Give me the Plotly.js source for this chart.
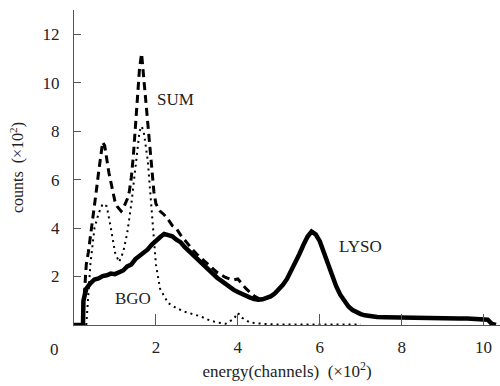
<!DOCTYPE html>
<html><head><meta charset="utf-8">
<script src="https://cdn.plot.ly/plotly-3.0.1.min.js"></script>
<style>html,body{margin:0;padding:0;background:#fff}#chart{width:500px;height:386px}</style>
</head><body><div id="chart"></div>
<script>
// LYSO spectrum (solid)
const lysoX = [0.0,0.22,0.23,0.3,0.4,0.5,0.6,0.7,0.8,0.9,1.0,1.1,1.2,1.3,1.4,1.5,1.6,1.7,1.8,1.9,2.0,2.1,2.2,2.3,2.4,2.5,2.6,2.7,2.8,2.9,3.0,3.1,3.2,3.3,3.4,3.5,3.6,3.7,3.8,3.9,4.0,4.1,4.2,4.3,4.4,4.5,4.6,4.7,4.8,4.9,5.0,5.1,5.2,5.3,5.4,5.5,5.6,5.7,5.8,5.9,6.0,6.1,6.2,6.3,6.4,6.5,6.6,6.7,6.8,6.9,7.0,7.1,7.2,7.3,7.4,7.6,7.8,8.0,8.2,8.4,8.6,8.8,9.0,9.2,9.4,9.6,9.8,10.0,10.1,10.2,10.3];
const lysoY = [0,0,1.0,1.5,1.72,1.88,1.92,2.02,2.05,2.12,2.1,2.18,2.25,2.42,2.5,2.72,2.85,3.02,3.12,3.32,3.5,3.62,3.76,3.72,3.66,3.52,3.42,3.22,3.06,2.88,2.76,2.55,2.42,2.24,2.12,1.94,1.82,1.68,1.56,1.45,1.36,1.27,1.2,1.13,1.07,1.04,1.06,1.1,1.18,1.3,1.46,1.66,1.9,2.22,2.55,2.92,3.3,3.64,3.86,3.74,3.46,3.0,2.5,2.02,1.6,1.25,0.96,0.76,0.62,0.52,0.45,0.4,0.37,0.35,0.33,0.32,0.31,0.31,0.3,0.3,0.29,0.29,0.28,0.28,0.27,0.27,0.26,0.25,0.22,0.05,0];
// SUM spectrum (dashed)
const sumX = [0.25,0.3,0.35,0.4,0.45,0.5,0.55,0.6,0.65,0.7,0.75,0.8,0.85,0.9,0.95,1.0,1.05,1.1,1.15,1.2,1.25,1.3,1.35,1.4,1.45,1.5,1.55,1.6,1.65,1.7,1.75,1.8,1.85,1.9,1.95,2.0,2.1,2.2,2.3,2.4,2.5,2.6,2.7,2.8,2.9,3.0,3.1,3.2,3.3,3.4,3.5,3.6,3.7,3.8,3.9,4.0,4.1,4.2,4.3,4.4,4.5,4.6];
const sumY = [1.2,2.5,3.0,3.6,4.4,5.0,5.6,6.3,7.0,7.55,7.4,6.8,6.3,5.9,5.5,5.1,4.9,4.8,4.7,4.8,5.0,5.2,5.5,6.1,7.0,8.1,9.3,10.6,11.2,10.2,9.2,8.3,7.2,6.2,5.5,5.0,4.7,4.55,4.35,4.1,3.98,3.72,3.5,3.3,3.1,2.92,2.76,2.6,2.45,2.3,2.16,2.06,1.96,1.9,1.86,1.9,1.7,1.5,1.35,1.2,1.1,1.06];
// BGO spectrum (dotted)
const bgoX = [0.3,0.4,0.5,0.6,0.7,0.8,0.9,1.0,1.1,1.2,1.3,1.4,1.5,1.6,1.65,1.7,1.8,1.9,2.0,2.1,2.2,2.3,2.5,2.7,2.9,3.1,3.3,3.5,3.7,3.9,4.0,4.1,4.3,4.6,5.0,5.5,6.0,6.5,7.0];
const bgoY = [0,2.5,4.0,4.6,5.0,4.9,4.0,3.0,2.6,3.0,3.8,5.0,6.5,8.0,8.2,8.0,6.8,4.5,2.5,1.5,1.2,0.9,0.7,0.55,0.45,0.35,0.2,0.1,0.05,0.25,0.5,0.3,0.1,0.05,0.02,0.02,0.05,0.02,0.02];
// labels
const seriesNames = ["SUM","LYSO","BGO"];
const labelX = [1.98,6.42,0.95];
const labelY = [9.3,3.23,1.09];
const xTicks = [2,4,6,8,10];
const yTicks = [2,4,6,8,10,12];

const serif = "Liberation Serif, Times New Roman, serif";
const traces = [
  {x: lysoX, y: lysoY, mode:'lines', line:{color:'#000', width:4.5, shape:'linear'}, hoverinfo:'skip'},
  {x: sumX, y: sumY, mode:'lines', line:{color:'#000', width:3, dash:'8px,5px'}, hoverinfo:'skip'},
  {x: bgoX, y: bgoY, mode:'lines', line:{color:'#000', width:2, dash:'2px,4px'}, hoverinfo:'skip'}
];
const annotations = seriesNames.map((n,i)=>({
  x: labelX[i], y: labelY[i], xref:'x', yref:'y', text:n, showarrow:false,
  xanchor:'left', yanchor:'middle', font:{family:serif, size:17, color:'#222'}
}));
annotations.push({x:0, y:0, xref:'x', yref:'y', text:'0', showarrow:false, xshift:-20, yshift:-24,
  xanchor:'center', yanchor:'middle', font:{family:serif, size:17, color:'#222'}});
const layout = {
  width:500, height:386,
  margin:{l:74, r:0, t:10, b:60.5},
  paper_bgcolor:'#fff', plot_bgcolor:'#fff',
  showlegend:false,
  font:{family:serif, size:17, color:'#222'},
  xaxis:{range:[0,10.4], tickvals:xTicks, ticktext:xTicks.map(String), ticks:'inside', ticklen:11, tickwidth:1, tickcolor:'#555',
    showline:true, linecolor:'#555', linewidth:1, showgrid:false, zeroline:false, ticklabelstandoff:7,
    tickfont:{family:serif, size:17, color:'#222'},
    title:{text:'energy(channels)  (×10<sup>2</sup>)', font:{family:serif, size:17, color:'#222'}, standoff:8}},
  yaxis:{range:[0,13], tickvals:yTicks, ticktext:yTicks.map(String), ticks:'inside', ticklen:7, tickwidth:1, tickcolor:'#555',
    showline:true, linecolor:'#555', linewidth:1, showgrid:false, zeroline:false, ticklabelstandoff:10,
    tickfont:{family:serif, size:17, color:'#222'},
    title:{text:'counts  (×10<sup>2</sup>)', font:{family:serif, size:16, color:'#222'}, standoff:14}},
  annotations: annotations
};
Plotly.newPlot('chart', traces, layout, {staticPlot:true, displayModeBar:false});
</script></body></html>
